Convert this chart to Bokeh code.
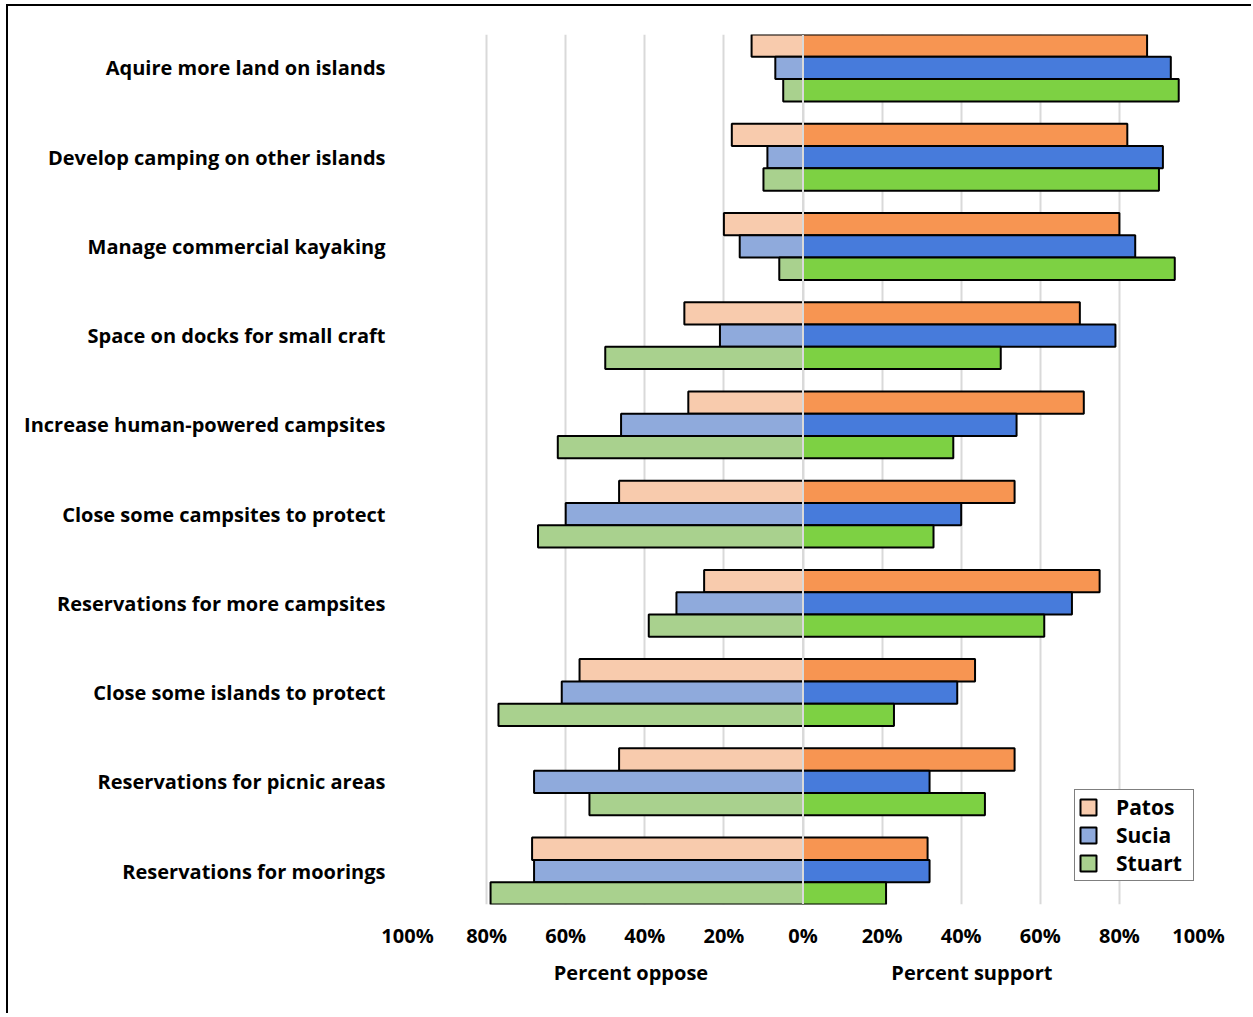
from bokeh.plotting import figure
from bokeh.models import (Range1d, FixedTicker, Span, Label, Legend, LegendItem)
from bokeh.embed import file_html
from bokeh.resources import INLINE

categories = [
    "Aquire more land on islands",
    "Develop camping on other islands",
    "Manage commercial kayaking",
    "Space on docks for small craft",
    "Increase human-powered campsites",
    "Close some campsites to protect",
    "Reservations for more campsites",
    "Close some islands to protect",
    "Reservations for picnic areas",
    "Reservations for moorings",
]
series = ["Patos", "Sucia", "Stuart"]

patos_support = [87, 82, 80, 70, 71, 53.5, 75, 43.5, 53.5, 31.5]
patos_oppose = [13, 18, 20, 30, 29, 46.5, 25, 56.5, 46.5, 68.5]
sucia_support = [93, 91, 84, 79, 54, 40, 68, 39, 32, 32]
sucia_oppose = [7, 9, 16, 21, 46, 60, 32, 61, 68, 68]
stuart_support = [95, 90, 94, 50, 38, 33, 61, 23, 46, 21]
stuart_oppose = [5, 10, 6, 50, 62, 67, 39, 77, 54, 79]

x_ticks = [-100, -80, -60, -40, -20, 0, 20, 40, 60, 80, 100]
axis_titles = ["Percent oppose", "Percent support"]
axis_title_centers = [-43.5, 42.7]

support_colors = ["#F79552", "#477BDB", "#7DD143"]
oppose_colors = ["#F8CBAD", "#8FAADC", "#A9D18E"]

FONT = "Open Sans"

p = figure(width=1245, height=1009, output_backend="svg", toolbar_location=None,
           x_range=Range1d(-100, 100), y_range=Range1d(9.375, -0.375),
           min_border_left=399, min_border_right=55, min_border_top=28,
           min_border_bottom=111, outline_line_color=None)
p.styles = {"margin-left": "6px", "margin-top": "4px",
            "border-left": "2px solid black", "border-top": "2px solid black"}

supports = [patos_support, sucia_support, stuart_support]
opposes = [patos_oppose, sucia_oppose, stuart_oppose]
offsets = [-0.25, 0.0, 0.25]

legend_items = []
for k in range(3):
    ys = [i + offsets[k] for i in range(len(categories))]
    r_op = p.hbar(y=ys, left=[-v for v in opposes[k]], right=0, height=0.25,
                  fill_color=oppose_colors[k], line_color="black", line_width=2)
    p.hbar(y=ys, left=0, right=supports[k], height=0.25,
           fill_color=support_colors[k], line_color="black", line_width=2)
    legend_items.append(LegendItem(label=series[k], renderers=[r_op]))

p.add_layout(Span(location=0, dimension="height", line_color="#D9D9D9", line_width=2))

# grid
p.xgrid.ticker = FixedTicker(ticks=x_ticks)
p.xgrid.grid_line_color = "#D9D9D9"
p.xgrid.grid_line_width = 2
p.ygrid.grid_line_color = None

# axes
xa = p.xaxis[0]
xa.ticker = FixedTicker(ticks=x_ticks)
xa.major_label_overrides = {v: f"{abs(v)}%" for v in x_ticks}
ya = p.yaxis[0]
ya.ticker = FixedTicker(ticks=list(range(len(categories))))
ya.major_label_overrides = {i: c for i, c in enumerate(categories)}
for ax in (xa, ya):
    ax.axis_line_color = None
    ax.major_tick_line_color = None
    ax.minor_tick_line_color = None
    ax.major_tick_out = 0
    ax.major_tick_in = 0
    ax.minor_tick_out = 0
    ax.minor_tick_in = 0
    ax.major_label_text_font = FONT
    ax.major_label_text_font_style = "bold"
    ax.major_label_text_font_size = "20px"
    ax.major_label_text_color = "black"
ya.major_label_standoff = 22
xa.major_label_standoff = 17

title_y = [6, 33]
for txt, xv, yv in zip(axis_titles, axis_title_centers, title_y):
    lab = Label(x=xv, y=yv, x_units="data", y_units="screen", text=txt,
                text_align="center", text_baseline="middle", text_font=FONT,
                text_font_style="bold", text_font_size="20px",
                text_color="black")
    p.add_layout(lab, "below")

legend = Legend(items=legend_items, location=(667, 23),
                label_text_font=FONT, label_text_font_style="bold",
                label_text_font_size="21px", label_text_color="black",
                glyph_width=20, glyph_height=20, label_height=24, label_width=74,
                spacing=0, padding=3, margin=0, label_standoff=18,
                border_line_color="black", border_line_width=1.5,
                background_fill_color="white", background_fill_alpha=1)
p.add_layout(legend)

open("out.html", "w").write(file_html(p, INLINE))
